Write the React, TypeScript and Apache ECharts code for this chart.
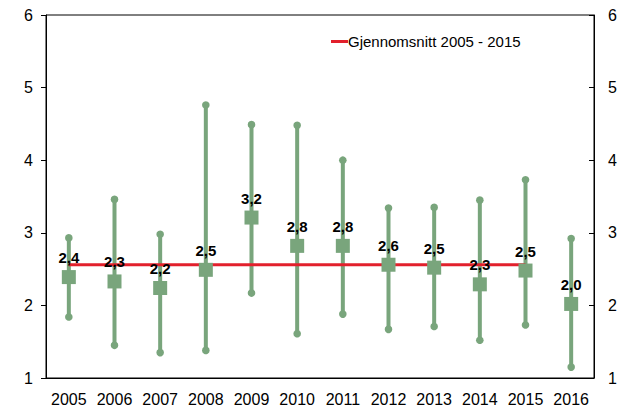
import React, { useEffect, useRef } from "react";
import * as echarts from "echarts";

const years = ["2005", "2006", "2007", "2008", "2009", "2010", "2011", "2012", "2013", "2014", "2015", "2016"];
const maxValues = [2.93, 3.46, 2.98, 4.76, 4.49, 4.48, 4.0, 3.34, 3.35, 3.45, 3.73, 2.92];
const minValues = [1.84, 1.45, 1.35, 1.38, 2.17, 1.61, 1.88, 1.67, 1.71, 1.52, 1.73, 1.15];
const meanValues = [2.39, 2.33, 2.24, 2.49, 3.21, 2.82, 2.82, 2.56, 2.52, 2.29, 2.48, 2.02];
const averageValue = 2.56;
const averageYears = 11; // 2005 - 2015
const legendName = "Gjennomsnitt 2005 - 2015";

const GREEN = "#79a57c";
const RED = "#e2202c";
const FONT = "Liberation Sans, Arial, sans-serif";

export default function App() {
  const ref = useRef<HTMLDivElement>(null);
  useEffect(() => {
    if (!ref.current) return;
    const chart = echarts.init(ref.current, null, { renderer: "svg" });
    const rangeData = years.map((_, i) => [i, minValues[i], maxValues[i]]);
    const avgData = years.map((_, i) => (i < averageYears ? averageValue : "-"));
    chart.setOption({
      animation: false,
      textStyle: { fontFamily: FONT },
      grid: { left: 46, right: 34, top: 15, bottom: 23, show: true, borderColor: "#000", borderWidth: 1 },
      legend: {
        left: 326,
        top: 29,
        itemWidth: 17,
        itemHeight: 3,
        itemGap: 0,
        textStyle: { fontSize: 15, color: "#000", fontFamily: FONT, padding: [0, 0, 0, -5] },
        data: [{ name: legendName, icon: "rect" }],
      },
      xAxis: {
        type: "category",
        data: years,
        boundaryGap: true,
        axisLine: { lineStyle: { color: "#000", width: 1 } },
        axisTick: { inside: true, length: 6, interval: 0, lineStyle: { color: "#000" } },
        axisLabel: { fontSize: 16, color: "#000", margin: 13, fontFamily: FONT, interval: 0 },
        splitLine: { show: false },
      },
      yAxis: [
        {
          type: "value",
          min: 1,
          max: 6,
          interval: 1,
          position: "left",
          axisLine: { show: true, lineStyle: { color: "#000" } },
          axisTick: { show: true, length: 5, lineStyle: { color: "#000" } },
          axisLabel: { fontSize: 16, color: "#000", margin: 13, fontFamily: FONT },
          splitLine: { show: false },
        },
        {
          type: "value",
          min: 1,
          max: 6,
          interval: 1,
          position: "right",
          axisLine: { show: true, lineStyle: { color: "#000" } },
          axisTick: { show: true, inside: true, length: 5, lineStyle: { color: "#000" } },
          axisLabel: { fontSize: 16, color: "#000", margin: 14, fontFamily: FONT },
          splitLine: { show: false },
        },
      ],
      series: [
        {
          type: "custom",
          z: 1,
          data: rangeData,
          encode: { x: 0, y: [1, 2] },
          renderItem: (params: any, api: any) => {
            const x = api.value(0);
            const lo = api.coord([x, api.value(1)]);
            const hi = api.coord([x, api.value(2)]);
            return {
              type: "group",
              children: [
                {
                  type: "line",
                  shape: { x1: lo[0], y1: lo[1], x2: hi[0], y2: hi[1] },
                  style: { stroke: GREEN, lineWidth: 4 },
                },
                { type: "circle", shape: { cx: lo[0], cy: lo[1], r: 3.8 }, style: { fill: GREEN } },
                { type: "circle", shape: { cx: hi[0], cy: hi[1], r: 3.8 }, style: { fill: GREEN } },
              ],
            };
          },
        },
        {
          name: legendName,
          type: "line",
          z: 2,
          data: avgData,
          symbol: "none",
          lineStyle: { color: RED, width: 3 },
          itemStyle: { color: RED },
        },
        {
          type: "scatter",
          z: 3,
          data: meanValues,
          symbol: "rect",
          symbolSize: 14,
          itemStyle: { color: GREEN, opacity: 1 },
          label: {
            show: true,
            position: "top",
            distance: 5,
            fontSize: 15,
            fontWeight: "bold",
            color: "#000",
            fontFamily: FONT,
            formatter: (p: any) => Number(p.value).toFixed(1).replace(".", ","),
          },
        },
      ],
    });
    return () => chart.dispose();
  }, []);
  return <div ref={ref} style={{ width: 628, height: 407, position: "absolute", left: 0, top: 0 }} />;
}
